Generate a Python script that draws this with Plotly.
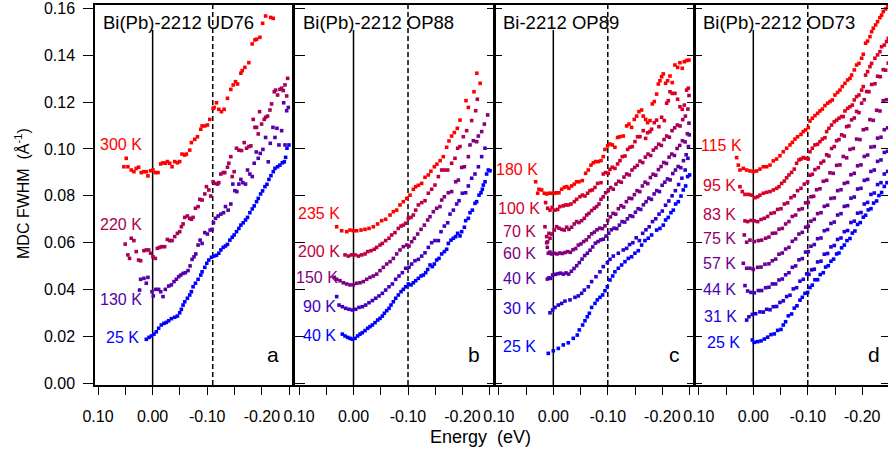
import plotly.graph_objects as go

# ---------------- Panel a : Bi(Pb)-2212 UD76 ----------------
a25_e = [0.0116,0.0067,0.0024,-0.0024,-0.0067,-0.0110,-0.0159,-0.0208,-0.0251,-0.0294,-0.0343,-0.0404,-0.0453,-0.0495,-0.0526,-0.0557,-0.0587,-0.0636,-0.0679,-0.0709,-0.0740,-0.0783,-0.0832,-0.0881,-0.0905,-0.0954,-0.0991,-0.1028,-0.1076,-0.1119,-0.1168,-0.1211,-0.1248,-0.1291,-0.1333,-0.1370,-0.1413,-0.1456,-0.1492,-0.1535,-0.1578,-0.1615,-0.1657,-0.1700,-0.1737,-0.1780,-0.1823,-0.1859,-0.1902,-0.1933,-0.1976,-0.2012,-0.2055,-0.2092,-0.2128,-0.2165,-0.2208,-0.2239,-0.2287,-0.2330,-0.2373,-0.2410,-0.2434,-0.2459,-0.2495]
a25_w = [0.0188,0.0196,0.0202,0.0210,0.0220,0.0235,0.0249,0.0256,0.0260,0.0267,0.0276,0.0282,0.0287,0.0301,0.0316,0.0334,0.0348,0.0363,0.0377,0.0391,0.0412,0.0427,0.0444,0.0462,0.0476,0.0495,0.0512,0.0526,0.0538,0.0543,0.0546,0.0555,0.0569,0.0580,0.0586,0.0593,0.0611,0.0623,0.0633,0.0647,0.0661,0.0675,0.0685,0.0697,0.0708,0.0728,0.0744,0.0757,0.0775,0.0789,0.0808,0.0821,0.0839,0.0849,0.0870,0.0886,0.0903,0.0917,0.0924,0.0931,0.0941,0.0945,0.0964,0.1003,0.1017]

a130_e = [0.0239,0.0220,0.0159,0.0116,0.0086,0.0012,-0.0012,-0.0055,-0.0110,-0.0147,-0.0190,-0.0232,-0.0294,-0.0343,-0.0391,-0.0434,-0.0477,-0.0514,-0.0557,-0.0599,-0.0648,-0.0685,-0.0722,-0.0758,-0.0789,-0.0832,-0.0869,-0.0905,-0.0954,-0.1003,-0.1052,-0.1089,-0.1113,-0.1150,-0.1199,-0.1248,-0.1297,-0.1333,-0.1382,-0.1431,-0.1468,-0.1505,-0.1541,-0.1578,-0.1615,-0.1651,-0.1700,-0.1737,-0.1780,-0.1823,-0.1859,-0.1896,-0.1933,-0.1969,-0.2018,-0.2067,-0.2116,-0.2153,-0.2202,-0.2239,-0.2275,-0.2312,-0.2361,-0.2398,-0.2422,-0.2453,-0.2483]
a130_w = [0.0398,0.0444,0.0448,0.0427,0.0452,0.0391,0.0373,0.0401,0.0401,0.0391,0.0370,0.0401,0.0415,0.0420,0.0434,0.0444,0.0455,0.0462,0.0469,0.0472,0.0481,0.0501,0.0529,0.0540,0.0552,0.0590,0.0611,0.0597,0.0643,0.0637,0.0654,0.0657,0.0685,0.0704,0.0714,0.0722,0.0728,0.0754,0.0739,0.0765,0.0850,0.0822,0.0818,0.0850,0.0870,0.0856,0.0850,0.0910,0.0893,0.0882,0.0939,0.0987,0.0960,0.0981,0.0998,0.1049,0.0945,0.1024,0.1092,0.1049,0.1088,0.1017,0.1078,0.1197,0.1017,0.1163,0.1177]

a220_e = [0.0502,0.0453,0.0422,0.0391,0.0343,0.0300,0.0257,0.0220,0.0159,0.0116,0.0073,0.0037,-0.0006,-0.0049,-0.0086,-0.0128,-0.0171,-0.0220,-0.0269,-0.0312,-0.0355,-0.0404,-0.0453,-0.0495,-0.0526,-0.0557,-0.0587,-0.0636,-0.0679,-0.0709,-0.0740,-0.0783,-0.0832,-0.0862,-0.0905,-0.0954,-0.0985,-0.1028,-0.1064,-0.1107,-0.1138,-0.1187,-0.1211,-0.1248,-0.1291,-0.1321,-0.1370,-0.1394,-0.1431,-0.1456,-0.1492,-0.1535,-0.1578,-0.1627,-0.1676,-0.1719,-0.1761,-0.1798,-0.1841,-0.1872,-0.1902,-0.1933,-0.1957,-0.1994,-0.2043,-0.2067,-0.2104,-0.2147,-0.2177,-0.2226,-0.2251,-0.2287,-0.2330,-0.2361,-0.2391,-0.2422,-0.2453,-0.2471]
a220_w = [0.0594,0.0548,0.0533,0.0619,0.0609,0.0562,0.0526,0.0523,0.0566,0.0569,0.0569,0.0555,0.0540,0.0533,0.0576,0.0580,0.0583,0.0583,0.0614,0.0609,0.0609,0.0626,0.0640,0.0647,0.0668,0.0680,0.0708,0.0714,0.0704,0.0700,0.0708,0.0747,0.0754,0.0785,0.0782,0.0808,0.0839,0.0825,0.0799,0.0860,0.0853,0.0850,0.0856,0.0893,0.0899,0.0899,0.0922,0.0939,0.0967,0.0882,0.0903,0.1003,0.0995,0.0993,0.1027,0.1003,0.1010,0.1013,0.1126,0.1092,0.1092,0.1064,0.1159,0.1106,0.1126,0.1135,0.1140,0.1166,0.1192,0.1244,0.1251,0.1230,0.1254,0.1259,0.1249,0.1273,0.1226,0.1301]

a300_e = [0.0526,0.0483,0.0453,0.0391,0.0343,0.0300,0.0257,0.0208,0.0159,0.0116,0.0086,0.0037,-0.0006,-0.0049,-0.0098,-0.0147,-0.0190,-0.0232,-0.0269,-0.0312,-0.0355,-0.0404,-0.0453,-0.0495,-0.0538,-0.0587,-0.0618,-0.0679,-0.0709,-0.0771,-0.0820,-0.0881,-0.0905,-0.0954,-0.1003,-0.1046,-0.1107,-0.1125,-0.1168,-0.1211,-0.1260,-0.1309,-0.1370,-0.1431,-0.1474,-0.1517,-0.1554,-0.1615,-0.1639,-0.1688,-0.1761,-0.1822,-0.1872,-0.1903,-0.1963,-0.2013,-0.2068,-0.2160,-0.2207]
a300_w = [0.0924,0.0960,0.0924,0.0910,0.0903,0.0917,0.0922,0.0899,0.0903,0.0903,0.0885,0.0907,0.0910,0.0899,0.0899,0.0936,0.0941,0.0939,0.0946,0.0939,0.0924,0.0946,0.0941,0.0946,0.0978,0.0974,0.0978,0.0995,0.1027,0.1041,0.1052,0.1084,0.1098,0.1098,0.1102,0.1126,0.1173,0.1177,0.1197,0.1169,0.1159,0.1169,0.1216,0.1254,0.1273,0.1287,0.1277,0.1323,0.1334,0.1348,0.1368,0.1448,0.1465,0.1468,0.1476,0.1536,0.1567,0.1561,0.1557]

# ---------------- Panel b : Bi(Pb)-2212 OP88 ----------------
b40_e = [0.0205,0.0156,0.0107,0.0064,0.0021,-0.0028,-0.0076,-0.0119,-0.0162,-0.0211,-0.0260,-0.0303,-0.0346,-0.0395,-0.0443,-0.0486,-0.0529,-0.0566,-0.0609,-0.0651,-0.0688,-0.0731,-0.0774,-0.0823,-0.0872,-0.0914,-0.0957,-0.1006,-0.1055,-0.1098,-0.1141,-0.1190,-0.1239,-0.1281,-0.1324,-0.1361,-0.1404,-0.1446,-0.1483,-0.1526,-0.1569,-0.1618,-0.1667,-0.1709,-0.1740,-0.1789,-0.1832,-0.1875,-0.1911,-0.1954,-0.1985,-0.2034,-0.2058,-0.2107,-0.2138,-0.2181,-0.2229,-0.2260,-0.2303,-0.2339,-0.2364,-0.2382,-0.2413,-0.2443,-0.2474,-0.2505]
b40_w = [0.0210,0.0202,0.0196,0.0192,0.0188,0.0192,0.0202,0.0210,0.0216,0.0225,0.0235,0.0242,0.0249,0.0259,0.0270,0.0277,0.0287,0.0299,0.0310,0.0320,0.0334,0.0348,0.0363,0.0377,0.0391,0.0401,0.0412,0.0424,0.0420,0.0429,0.0438,0.0448,0.0458,0.0462,0.0472,0.0486,0.0505,0.0498,0.0509,0.0526,0.0533,0.0552,0.0562,0.0572,0.0597,0.0611,0.0619,0.0626,0.0640,0.0629,0.0647,0.0666,0.0694,0.0704,0.0728,0.0739,0.0768,0.0775,0.0803,0.0813,0.0828,0.0846,0.0860,0.0893,0.0910,0.0907]

b90_e = [0.0309,0.0266,0.0205,0.0144,0.0083,0.0021,-0.0040,-0.0101,-0.0162,-0.0223,-0.0284,-0.0346,-0.0407,-0.0468,-0.0529,-0.0590,-0.0651,-0.0713,-0.0774,-0.0835,-0.0896,-0.0957,-0.1018,-0.1067,-0.1128,-0.1190,-0.1251,-0.1312,-0.1373,-0.1434,-0.1495,-0.1557,-0.1606,-0.1667,-0.1728,-0.1771,-0.1832,-0.1893,-0.1936,-0.1997,-0.2058,-0.2107,-0.2168,-0.2229,-0.2291,-0.2352,-0.2413]
b90_w = [0.0370,0.0334,0.0327,0.0320,0.0316,0.0313,0.0316,0.0324,0.0327,0.0334,0.0344,0.0353,0.0363,0.0373,0.0384,0.0398,0.0412,0.0424,0.0444,0.0458,0.0472,0.0491,0.0495,0.0509,0.0523,0.0529,0.0543,0.0557,0.0580,0.0600,0.0609,0.0609,0.0647,0.0671,0.0685,0.0722,0.0739,0.0765,0.0779,0.0811,0.0813,0.0842,0.0875,0.0893,0.0924,0.0967,0.1003]

b150_e = [0.0352,0.0309,0.0248,0.0187,0.0125,0.0064,0.0003,-0.0058,-0.0119,-0.0180,-0.0242,-0.0303,-0.0364,-0.0425,-0.0486,-0.0547,-0.0609,-0.0670,-0.0731,-0.0792,-0.0853,-0.0914,-0.0976,-0.1018,-0.1067,-0.1116,-0.1177,-0.1239,-0.1300,-0.1361,-0.1404,-0.1465,-0.1526,-0.1587,-0.1618,-0.1667,-0.1740,-0.1801,-0.1875,-0.1924,-0.1985,-0.2034,-0.2107,-0.2138,-0.2199,-0.2260,-0.2291,-0.2352,-0.2401,-0.2462]
b150_w = [0.0452,0.0444,0.0438,0.0429,0.0424,0.0420,0.0420,0.0427,0.0429,0.0434,0.0444,0.0452,0.0458,0.0466,0.0481,0.0495,0.0509,0.0519,0.0533,0.0552,0.0569,0.0583,0.0590,0.0586,0.0604,0.0619,0.0637,0.0657,0.0675,0.0697,0.0711,0.0732,0.0747,0.0754,0.0782,0.0796,0.0813,0.0818,0.0860,0.0867,0.0921,0.0924,0.0967,0.1017,0.1035,0.1031,0.1055,0.1074,0.1106,0.1145]

b200_e = [0.0156,0.0095,0.0034,-0.0028,-0.0089,-0.0150,-0.0211,-0.0260,-0.0321,-0.0382,-0.0425,-0.0486,-0.0529,-0.0590,-0.0651,-0.0700,-0.0761,-0.0823,-0.0872,-0.0914,-0.0957,-0.1006,-0.1055,-0.1098,-0.1141,-0.1190,-0.1251,-0.1312,-0.1373,-0.1434,-0.1495,-0.1557,-0.1618,-0.1667,-0.1728,-0.1801,-0.1862,-0.1911,-0.1954,-0.2015,-0.2076,-0.2168,-0.2242,-0.2272]
b200_w = [0.0548,0.0543,0.0548,0.0548,0.0543,0.0548,0.0552,0.0562,0.0566,0.0572,0.0580,0.0590,0.0597,0.0609,0.0619,0.0633,0.0643,0.0661,0.0671,0.0675,0.0683,0.0704,0.0708,0.0718,0.0739,0.0761,0.0771,0.0779,0.0811,0.0828,0.0846,0.0882,0.0910,0.0910,0.0910,0.0939,0.0960,0.1003,0.1010,0.1052,0.1078,0.1121,0.1163,0.1212]

b235_e = [0.0309,0.0217,0.0125,0.0064,0.0003,-0.0058,-0.0138,-0.0211,-0.0284,-0.0364,-0.0443,-0.0517,-0.0590,-0.0670,-0.0731,-0.0792,-0.0853,-0.0914,-0.0976,-0.1037,-0.1098,-0.1141,-0.1190,-0.1251,-0.1312,-0.1373,-0.1420,-0.1483,-0.1530,-0.1590,-0.1648,-0.1709,-0.1752,-0.1801,-0.1850,-0.1905,-0.1954,-0.2064,-0.2107,-0.2211,-0.2263,-0.2324]
b235_w = [0.0668,0.0651,0.0647,0.0654,0.0651,0.0651,0.0654,0.0657,0.0661,0.0668,0.0680,0.0694,0.0700,0.0718,0.0732,0.0739,0.0761,0.0775,0.0789,0.0803,0.0828,0.0839,0.0845,0.0853,0.0879,0.0889,0.0905,0.0924,0.0935,0.0950,0.0967,0.1007,0.1034,0.1055,0.1070,0.1088,0.1123,0.1206,0.1177,0.1244,0.1323,0.1280]

# ---------------- Panel c : Bi-2212 OP89 ----------------
c25_e = [0.0092,0.0,-0.0092,-0.0183,-0.0275,-0.0367,-0.0440,-0.0477,-0.0538,-0.0581,-0.0624,-0.0661,-0.0703,-0.0765,-0.0807,-0.0856,-0.0905,-0.0948,-0.0991,-0.1040,-0.1089,-0.1131,-0.1193,-0.1254,-0.1315,-0.1376,-0.1437,-0.1498,-0.1560,-0.1621,-0.1682,-0.1743,-0.1804,-0.1896,-0.1957,-0.2018,-0.2061,-0.2110,-0.2159,-0.2202,-0.2245,-0.2294,-0.2343,-0.2385,-0.2428,-0.2465,-0.2502]
c25_w = [0.0128,0.0139,0.0149,0.0164,0.0173,0.0192,0.0206,0.0228,0.0249,0.0267,0.0284,0.0299,0.0324,0.0341,0.0356,0.0367,0.0377,0.0395,0.0412,0.0441,0.0458,0.0476,0.0491,0.0505,0.0519,0.0533,0.0540,0.0555,0.0566,0.0590,0.0609,0.0619,0.0633,0.0654,0.0661,0.0675,0.0697,0.0708,0.0728,0.0739,0.0765,0.0775,0.0799,0.0825,0.0842,0.0882,0.0889]

c30_e = [0.0061,0.0012,-0.0031,-0.0092,-0.0153,-0.0214,-0.0306,-0.0398,-0.0459,-0.0520,-0.0569,-0.0642,-0.0703,-0.0783,-0.0856,-0.0917,-0.0991,-0.1040,-0.1101,-0.1193,-0.1284,-0.1346,-0.1400,-0.1460,-0.1521,-0.1580,-0.1640,-0.1700,-0.1760,-0.1820,-0.1880,-0.1940,-0.2000,-0.2060,-0.2120,-0.2180,-0.2240,-0.2300,-0.2360,-0.2420,-0.2470]
c30_w = [0.0301,0.0313,0.0324,0.0334,0.0341,0.0351,0.0356,0.0367,0.0373,0.0384,0.0398,0.0412,0.0434,0.0455,0.0476,0.0498,0.0515,0.0529,0.0543,0.0555,0.0569,0.0576,0.0592,0.0600,0.0621,0.0609,0.0640,0.0655,0.0668,0.0690,0.0702,0.0722,0.0735,0.0760,0.0778,0.0800,0.0822,0.0848,0.0875,0.0910,0.0960]

c40_e = [0.0110,0.0080,0.0050,0.0012,-0.0037,-0.0086,-0.0135,-0.0184,-0.0233,-0.0282,-0.0331,-0.0380,-0.0429,-0.0478,-0.0527,-0.0576,-0.0625,-0.0674,-0.0723,-0.0772,-0.0821,-0.0870,-0.0919,-0.0968,-0.1017,-0.1066,-0.1115,-0.1164,-0.1213,-0.1262,-0.1311,-0.1360,-0.1409,-0.1458,-0.1507,-0.1556,-0.1605,-0.1654,-0.1703,-0.1752,-0.1801,-0.1850,-0.1899,-0.1948,-0.1997,-0.2046,-0.2095,-0.2144,-0.2193,-0.2242,-0.2291,-0.2340,-0.2389,-0.2438,-0.2480,-0.2495]
c40_w = [0.0445,0.0450,0.0448,0.0462,0.0465,0.0468,0.0470,0.0466,0.0471,0.0466,0.0478,0.0490,0.0502,0.0515,0.0530,0.0545,0.0555,0.0568,0.0582,0.0598,0.0605,0.0612,0.0615,0.0628,0.0640,0.0655,0.0662,0.0660,0.0675,0.0690,0.0688,0.0702,0.0715,0.0712,0.0730,0.0745,0.0742,0.0762,0.0775,0.0790,0.0785,0.0808,0.0822,0.0818,0.0845,0.0858,0.0872,0.0868,0.0895,0.0910,0.0925,0.0920,0.0950,0.0975,0.1010,0.1060]

c60_e = [0.0122,0.0110,0.0092,0.0061,0.0031,-0.0018,-0.0067,-0.0116,-0.0165,-0.0214,-0.0263,-0.0312,-0.0361,-0.0410,-0.0459,-0.0508,-0.0557,-0.0606,-0.0655,-0.0704,-0.0753,-0.0802,-0.0851,-0.0900,-0.0949,-0.0998,-0.1047,-0.1096,-0.1145,-0.1194,-0.1243,-0.1292,-0.1341,-0.1390,-0.1439,-0.1488,-0.1537,-0.1586,-0.1635,-0.1684,-0.1733,-0.1782,-0.1831,-0.1880,-0.1929,-0.1978,-0.2027,-0.2076,-0.2125,-0.2174,-0.2223,-0.2272,-0.2321,-0.2370,-0.2419,-0.2460,-0.2490]
c60_w = [0.0600,0.0580,0.0555,0.0560,0.0552,0.0555,0.0552,0.0556,0.0554,0.0558,0.0562,0.0559,0.0570,0.0575,0.0590,0.0595,0.0605,0.0612,0.0625,0.0638,0.0645,0.0655,0.0662,0.0660,0.0672,0.0695,0.0710,0.0725,0.0722,0.0745,0.0758,0.0752,0.0775,0.0790,0.0788,0.0805,0.0822,0.0818,0.0842,0.0858,0.0852,0.0878,0.0892,0.0888,0.0912,0.0925,0.0942,0.0938,0.0965,0.0978,0.0972,0.1002,0.1015,0.1035,0.1030,0.1065,0.1110]

c70_e = [0.0153,0.0122,0.0104,0.0080,0.0061,0.0031,-0.0018,-0.0061,-0.0104,-0.0153,-0.0202,-0.0245,-0.0287,-0.0336,-0.0385,-0.0428,-0.0471,-0.0520,-0.0569,-0.0612,-0.0654,-0.0703,-0.0752,-0.0795,-0.0838,-0.0875,-0.0917,-0.0960,-0.1009,-0.1052,-0.1101,-0.1150,-0.1199,-0.1248,-0.1297,-0.1346,-0.1395,-0.1444,-0.1493,-0.1542,-0.1591,-0.1640,-0.1689,-0.1738,-0.1787,-0.1836,-0.1885,-0.1934,-0.1983,-0.2032,-0.2081,-0.2130,-0.2179,-0.2228,-0.2277,-0.2326,-0.2375,-0.2424,-0.2470,-0.2490]
c70_w = [0.0668,0.0626,0.0604,0.0640,0.0619,0.0637,0.0654,0.0668,0.0662,0.0657,0.0654,0.0666,0.0657,0.0666,0.0680,0.0690,0.0686,0.0694,0.0704,0.0718,0.0725,0.0737,0.0747,0.0754,0.0765,0.0785,0.0796,0.0813,0.0822,0.0835,0.0828,0.0850,0.0862,0.0858,0.0880,0.0893,0.0889,0.0910,0.0921,0.0930,0.0948,0.0942,0.0965,0.0978,0.0972,0.0995,0.1005,0.1020,0.1015,0.1040,0.1055,0.1050,0.1078,0.1090,0.1102,0.1098,0.1125,0.1140,0.1170,0.1228]

c100_e = [0.0141,0.0104,0.0061,0.0018,-0.0031,-0.0080,-0.0122,-0.0183,-0.0226,-0.0275,-0.0324,-0.0385,-0.0428,-0.0489,-0.0532,-0.0581,-0.0630,-0.0673,-0.0716,-0.0765,-0.0813,-0.0875,-0.0917,-0.0960,-0.1009,-0.1040,-0.1083,-0.1131,-0.1180,-0.1223,-0.1266,-0.1315,-0.1364,-0.1407,-0.1450,-0.1498,-0.1547,-0.1590,-0.1651,-0.1694,-0.1731,-0.1774,-0.1804,-0.1853,-0.1896,-0.1939,-0.1988,-0.2037,-0.2080,-0.2110,-0.2141,-0.2183,-0.2232,-0.2281,-0.2324,-0.2367,-0.2404,-0.2446,-0.2477]
c100_w = [0.0771,0.0747,0.0739,0.0751,0.0739,0.0742,0.0754,0.0757,0.0761,0.0761,0.0765,0.0775,0.0785,0.0796,0.0803,0.0799,0.0811,0.0822,0.0825,0.0836,0.0853,0.0856,0.0893,0.0899,0.0896,0.0913,0.0922,0.0917,0.0936,0.0950,0.0967,0.0970,0.0998,0.1007,0.1010,0.1031,0.1052,0.1052,0.1078,0.1045,0.1069,0.1074,0.1084,0.1112,0.1123,0.1095,0.1135,0.1121,0.1195,0.1206,0.1244,0.1237,0.1237,0.1212,0.1180,0.1169,0.1187,0.1251,0.1259]

c180_e = [0.0324,0.0287,0.0263,0.0214,0.0165,0.0122,0.0080,0.0031,-0.0018,-0.0061,-0.0104,-0.0153,-0.0202,-0.0245,-0.0287,-0.0336,-0.0385,-0.0428,-0.0471,-0.0532,-0.0593,-0.0642,-0.0691,-0.0734,-0.0777,-0.0826,-0.0875,-0.0917,-0.0948,-0.0997,-0.1040,-0.1083,-0.1131,-0.1180,-0.1223,-0.1284,-0.1346,-0.1388,-0.1437,-0.1486,-0.1529,-0.1572,-0.1621,-0.1651,-0.1694,-0.1731,-0.1774,-0.1817,-0.1853,-0.1896,-0.1927,-0.1957,-0.1988,-0.2018,-0.2061,-0.2098,-0.2141,-0.2183,-0.2232,-0.2281,-0.2324,-0.2367,-0.2404,-0.2446,-0.2489]
c180_w = [0.0860,0.0811,0.0828,0.0825,0.0811,0.0808,0.0811,0.0811,0.0811,0.0813,0.0813,0.0828,0.0836,0.0839,0.0832,0.0842,0.0850,0.0860,0.0860,0.0865,0.0896,0.0910,0.0931,0.0941,0.0946,0.0946,0.0950,0.0967,0.0998,0.1013,0.1021,0.1017,0.1007,0.1049,0.1052,0.1055,0.1098,0.1106,0.1092,0.1126,0.1140,0.1159,0.1166,0.1140,0.1126,0.1112,0.1121,0.1192,0.1202,0.1234,0.1277,0.1291,0.1308,0.1320,0.1280,0.1291,0.1311,0.1283,0.1358,0.1348,0.1368,0.1344,0.1372,0.1377,0.1379]

# ---------------- Panel d : Bi(Pb)-2212 OD73 ----------------
d25_e = [0.0018,-0.0018,-0.0080,-0.0141,-0.0202,-0.0263,-0.0324,-0.0385,-0.0447,-0.0508,-0.0550,-0.0593,-0.0642,-0.0703,-0.0752,-0.0801,-0.0856,-0.0899,-0.0948,-0.0997,-0.1040,-0.1083,-0.1131,-0.1180,-0.1229,-0.1284,-0.1327,-0.1376,-0.1425,-0.1474,-0.1529,-0.1572,-0.1621,-0.1670,-0.1719,-0.1774,-0.1817,-0.1865,-0.1914,-0.1963,-0.2018,-0.2061,-0.2110,-0.2159,-0.2208,-0.2263,-0.2306,-0.2355,-0.2404,-0.2453]
d25_w = [0.0185,0.0175,0.0178,0.0181,0.0189,0.0197,0.0208,0.0211,0.0226,0.0230,0.0249,0.0263,0.0288,0.0296,0.0321,0.0331,0.0355,0.0367,0.0384,0.0388,0.0409,0.0419,0.0442,0.0442,0.0464,0.0472,0.0496,0.0502,0.0521,0.0530,0.0552,0.0556,0.0578,0.0590,0.0609,0.0618,0.0641,0.0650,0.0678,0.0686,0.0709,0.0717,0.0740,0.0745,0.0769,0.0778,0.0801,0.0814,0.0840,0.0856]

d31_e = [0.0122,0.0080,0.0018,-0.0043,-0.0122,-0.0183,-0.0245,-0.0306,-0.0367,-0.0428,-0.0489,-0.0550,-0.0612,-0.0673,-0.0734,-0.0795,-0.0856,-0.0917,-0.0979,-0.1021,-0.1070,-0.1119,-0.1180,-0.1242,-0.1303,-0.1364,-0.1425,-0.1486,-0.1547,-0.1609,-0.1670,-0.1731,-0.1792,-0.1853,-0.1914,-0.1976,-0.2037,-0.2098,-0.2159,-0.2220,-0.2281,-0.2343,-0.2404,-0.2465]
d31_w = [0.0270,0.0284,0.0294,0.0297,0.0305,0.0304,0.0316,0.0314,0.0327,0.0328,0.0345,0.0352,0.0370,0.0376,0.0403,0.0408,0.0436,0.0444,0.0467,0.0465,0.0484,0.0487,0.0518,0.0521,0.0551,0.0554,0.0582,0.0588,0.0614,0.0620,0.0647,0.0652,0.0686,0.0692,0.0726,0.0729,0.0765,0.0772,0.0806,0.0812,0.0848,0.0856,0.0893,0.0904]

d44_e = [0.0153,0.0104,0.0043,-0.0018,-0.0092,-0.0153,-0.0226,-0.0287,-0.0349,-0.0410,-0.0471,-0.0532,-0.0593,-0.0654,-0.0716,-0.0777,-0.0838,-0.0899,-0.0960,-0.1009,-0.1058,-0.1119,-0.1180,-0.1242,-0.1303,-0.1364,-0.1425,-0.1486,-0.1547,-0.1609,-0.1670,-0.1731,-0.1792,-0.1853,-0.1914,-0.1976,-0.2037,-0.2098,-0.2159,-0.2220,-0.2281,-0.2343,-0.2404,-0.2465]
d44_w = [0.0417,0.0394,0.0388,0.0386,0.0396,0.0396,0.0408,0.0410,0.0424,0.0424,0.0441,0.0445,0.0463,0.0472,0.0495,0.0501,0.0527,0.0532,0.0560,0.0562,0.0585,0.0592,0.0617,0.0620,0.0651,0.0656,0.0682,0.0688,0.0718,0.0724,0.0755,0.0758,0.0790,0.0795,0.0829,0.0832,0.0866,0.0870,0.0904,0.0910,0.0947,0.0953,0.0985,0.0990]

d57_e = [0.0183,0.0122,0.0061,0.0,-0.0080,-0.0141,-0.0214,-0.0287,-0.0349,-0.0410,-0.0471,-0.0532,-0.0593,-0.0654,-0.0716,-0.0777,-0.0838,-0.0899,-0.0960,-0.1009,-0.1058,-0.1119,-0.1180,-0.1242,-0.1303,-0.1364,-0.1425,-0.1486,-0.1547,-0.1609,-0.1670,-0.1731,-0.1792,-0.1853,-0.1914,-0.1976,-0.2037,-0.2098,-0.2159,-0.2220,-0.2281,-0.2343,-0.2404,-0.2465]
d57_w = [0.0512,0.0491,0.0491,0.0486,0.0495,0.0496,0.0508,0.0510,0.0523,0.0530,0.0551,0.0556,0.0573,0.0580,0.0606,0.0616,0.0637,0.0644,0.0666,0.0670,0.0692,0.0700,0.0724,0.0728,0.0755,0.0760,0.0789,0.0791,0.0822,0.0826,0.0853,0.0857,0.0890,0.0896,0.0928,0.0932,0.0968,0.0974,0.1008,0.1010,0.1046,0.1050,0.1082,0.1090]

d75_e = [0.0165,0.0122,0.0061,-0.0018,-0.0092,-0.0153,-0.0226,-0.0287,-0.0349,-0.0410,-0.0471,-0.0532,-0.0593,-0.0654,-0.0716,-0.0777,-0.0838,-0.0899,-0.0960,-0.1009,-0.1058,-0.1107,-0.1162,-0.1223,-0.1284,-0.1346,-0.1407,-0.1468,-0.1529,-0.1590,-0.1651,-0.1713,-0.1774,-0.1835,-0.1896,-0.1957,-0.2018,-0.2080,-0.2141,-0.2202,-0.2263,-0.2324,-0.2385,-0.2446]
d75_w = [0.0633,0.0602,0.0611,0.0605,0.0609,0.0611,0.0619,0.0624,0.0640,0.0641,0.0658,0.0661,0.0680,0.0690,0.0712,0.0718,0.0741,0.0745,0.0770,0.0772,0.0796,0.0798,0.0826,0.0830,0.0862,0.0866,0.0898,0.0896,0.0930,0.0932,0.0968,0.0962,0.0998,0.1002,0.1042,0.1040,0.1082,0.1086,0.1125,0.1122,0.1165,0.1162,0.1206,0.1210]

d83_e = [0.0153,0.0104,0.0043,-0.0018,-0.0080,-0.0141,-0.0202,-0.0263,-0.0324,-0.0385,-0.0447,-0.0508,-0.0569,-0.0630,-0.0691,-0.0752,-0.0813,-0.0875,-0.0936,-0.0997,-0.1040,-0.1083,-0.1131,-0.1193,-0.1242,-0.1291,-0.1346,-0.1388,-0.1437,-0.1486,-0.1529,-0.1572,-0.1621,-0.1670,-0.1713,-0.1755,-0.1804,-0.1853,-0.1896,-0.1939,-0.1988,-0.2037,-0.2080,-0.2122,-0.2171,-0.2232,-0.2281,-0.2330,-0.2385,-0.2428,-0.2477]
d83_w = [0.0693,0.0690,0.0695,0.0693,0.0690,0.0699,0.0704,0.0712,0.0725,0.0728,0.0742,0.0745,0.0765,0.0770,0.0792,0.0800,0.0822,0.0832,0.0850,0.0860,0.0888,0.0892,0.0912,0.0920,0.0940,0.0948,0.0975,0.0970,0.1002,0.1010,0.1035,0.1040,0.1060,0.1055,0.1095,0.1098,0.1124,0.1132,0.1160,0.1155,0.1195,0.1210,0.1245,0.1244,0.1275,0.1278,0.1310,0.1308,0.1338,0.1336,0.1366]

d95_e = [0.0245,0.0202,0.0153,0.0092,0.0031,-0.0031,-0.0080,-0.0122,-0.0183,-0.0245,-0.0306,-0.0367,-0.0428,-0.0471,-0.0520,-0.0569,-0.0612,-0.0654,-0.0703,-0.0752,-0.0795,-0.0838,-0.0875,-0.0917,-0.0960,-0.1009,-0.1040,-0.1083,-0.1131,-0.1180,-0.1223,-0.1266,-0.1315,-0.1346,-0.1388,-0.1437,-0.1486,-0.1529,-0.1572,-0.1621,-0.1651,-0.1682,-0.1731,-0.1774,-0.1817,-0.1853,-0.1896,-0.1939,-0.1988,-0.2018,-0.2061,-0.2098,-0.2141,-0.2171,-0.2232,-0.2281,-0.2324,-0.2355,-0.2404,-0.2446,-0.2477]
d95_w = [0.0839,0.0818,0.0806,0.0806,0.0803,0.0792,0.0796,0.0803,0.0811,0.0815,0.0818,0.0825,0.0832,0.0839,0.0853,0.0863,0.0877,0.0889,0.0900,0.0914,0.0939,0.0953,0.0957,0.0963,0.0960,0.0957,0.0988,0.1003,0.1017,0.1020,0.1031,0.1042,0.1048,0.1074,0.1088,0.1102,0.1116,0.1123,0.1131,0.1138,0.1138,0.1162,0.1173,0.1180,0.1187,0.1209,0.1223,0.1230,0.1251,0.1266,0.1315,0.1330,0.1351,0.1365,0.1387,0.1401,0.1415,0.1436,0.1443,0.1458,0.1472]

d115_e = [0.0306,0.0275,0.0245,0.0183,0.0122,0.0061,0.0,-0.0061,-0.0122,-0.0183,-0.0245,-0.0306,-0.0367,-0.0428,-0.0489,-0.0550,-0.0612,-0.0673,-0.0716,-0.0765,-0.0813,-0.0875,-0.0917,-0.0960,-0.1009,-0.1040,-0.1083,-0.1131,-0.1180,-0.1223,-0.1266,-0.1315,-0.1364,-0.1407,-0.1450,-0.1498,-0.1547,-0.1590,-0.1633,-0.1682,-0.1731,-0.1774,-0.1804,-0.1853,-0.1896,-0.1939,-0.1988,-0.2018,-0.2061,-0.2098,-0.2141,-0.2171,-0.2202,-0.2245,-0.2281,-0.2324,-0.2355,-0.2385,-0.2428,-0.2465]
d115_w = [0.0963,0.0931,0.0910,0.0917,0.0910,0.0906,0.0903,0.0906,0.0914,0.0924,0.0924,0.0931,0.0949,0.0957,0.0971,0.0988,0.1003,0.1017,0.1028,0.1042,0.1052,0.1062,0.1074,0.1081,0.1091,0.1119,0.1131,0.1142,0.1152,0.1162,0.1170,0.1185,0.1195,0.1202,0.1209,0.1230,0.1241,0.1251,0.1266,0.1280,0.1294,0.1301,0.1315,0.1337,0.1358,0.1365,0.1387,0.1404,0.1451,0.1460,0.1479,0.1500,0.1515,0.1529,0.1543,0.1560,0.1571,0.1586,0.1597,0.1607]

# ---------------- labels ----------------
panel_titles = ["Bi(Pb)-2212 UD76", "Bi(Pb)-2212 OP88", "Bi-2212 OP89", "Bi(Pb)-2212 OD73"]
panel_letters = ["a", "b", "c", "d"]
x_tick_vals = [0.1, 0.0, -0.1, -0.2]
x_tick_text = ["0.10", "0.00", "-0.10", "-0.20"]
gap_energy = [-0.11, -0.10, -0.10, -0.10]   # dashed reference line per panel

panels = [
    [("25 K", a25_e, a25_w), ("130 K", a130_e, a130_w), ("220 K", a220_e, a220_w), ("300 K", a300_e, a300_w)],
    [("40 K", b40_e, b40_w), ("90 K", b90_e, b90_w), ("150 K", b150_e, b150_w), ("200 K", b200_e, b200_w), ("235 K", b235_e, b235_w)],
    [("25 K", c25_e, c25_w), ("30 K", c30_e, c30_w), ("40 K", c40_e, c40_w), ("60 K", c60_e, c60_w), ("70 K", c70_e, c70_w), ("100 K", c100_e, c100_w), ("180 K", c180_e, c180_w)],
    [("25 K", d25_e, d25_w), ("31 K", d31_e, d31_w), ("44 K", d44_e, d44_w), ("57 K", d57_e, d57_w), ("75 K", d75_e, d75_w), ("83 K", d83_e, d83_w), ("95 K", d95_e, d95_w), ("115 K", d115_e, d115_w)],
]

# label anchor (right edge, centre) in data units, per panel, same order as series
label_pos = [
    [(0.022, 0.0196), (0.016, 0.0356), (0.016, 0.0678), (0.016, 0.1020)],
    [(0.028, 0.0206), (0.028, 0.0330), (0.025, 0.0452), (0.022, 0.0562), (0.021, 0.0725)],
    [(0.0275, 0.0156), (0.0275, 0.0320), (0.0275, 0.0448), (0.0275, 0.0552), (0.0275, 0.0647), (0.0214, 0.0747), (0.0245, 0.0913)],
    [(0.0214, 0.0175), (0.0257, 0.0284), (0.0287, 0.0402), (0.0287, 0.0512), (0.0287, 0.0619), (0.0287, 0.0721), (0.0275, 0.0846), (0.0165, 0.1014)],
]

W, H = 888, 453
FONT = "Liberation Sans, Arial, sans-serif"

def px_x(p):
    return p / W

def px_y(p):
    return 1 - p / H

def col(i, n):
    t = i / (n - 1)
    return "rgb(%d,0,%d)" % (round(255 * t), round(255 * (1 - t)))

dom_x = [(95, 293), (294, 494), (495, 694), (695, 888)]
x_ranges = [(0.1055, -0.2569), (0.1092, -0.2578), (0.107, -0.2582), (0.107, -0.2472)]
y_range = (-0.0007, 0.1614)
y_dom = (px_y(385), px_y(5))

fig = go.Figure()
annotations = []
shapes = []
layout = {}

for k, series in enumerate(panels):
    sfx = "" if k == 0 else str(k + 1)
    xa, ya = "x" + sfx, "y" + sfx
    n = len(series)
    for i, (name, xe, yw) in enumerate(series):
        m = min(len(xe), len(yw))
        c = col(i, n)
        fig.add_trace(go.Scatter(
            x=xe[:m], y=yw[:m], mode="markers", name=name,
            xaxis=xa, yaxis=ya, showlegend=False,
            marker=dict(symbol="square", size=3.6, color=c, line=dict(width=0)),
            hoverinfo="skip"))
        lx, ly = label_pos[k][i]
        annotations.append(dict(x=lx, y=ly, xref=xa, yref=ya, text=name,
                                showarrow=False, xanchor="right", yanchor="middle",
                                font=dict(size=16, color=c, family=FONT)))
    layout["xaxis" + sfx] = dict(
        domain=[px_x(dom_x[k][0]), px_x(dom_x[k][1])], range=list(x_ranges[k]),
        anchor=ya, showgrid=False, zeroline=False, automargin=False,
        showline=True, linecolor="black", linewidth=1.5, mirror=True,
        ticks="outside", ticklen=8, tickwidth=1.2, tickcolor="black",
        tickmode="array", tickvals=x_tick_vals, ticktext=x_tick_text,
        ticklabelstandoff=8, ticklabeloverflow="allow",
        minor=dict(tickmode="array", tickvals=[0.05, -0.05, -0.15, -0.25],
                   ticks="outside", ticklen=8, tickwidth=1.2, tickcolor="black", showgrid=False),
        tickfont=dict(size=16, color="black", family=FONT))
    yax = dict(
        domain=list(y_dom), range=list(y_range), anchor=xa,
        showgrid=False, zeroline=False, automargin=False,
        showline=True, linecolor="black", linewidth=1.5, mirror="ticks",
        tickmode="linear", tick0=0, dtick=0.02, tickformat=".2f",
        tickwidth=1.2, tickcolor="black", ticklabeloverflow="allow",
        tickfont=dict(size=16, color="black", family=FONT))
    if k == 0:
        yax.update(ticks="outside", ticklen=10, showticklabels=True, ticklabelstandoff=5)
    else:
        yax.update(ticks="inside", ticklen=7, showticklabels=False)
    layout["yaxis" + sfx] = yax

    # reference lines
    shapes.append(dict(type="line", xref=xa, yref=ya, x0=0, x1=0, y0=y_range[0], y1=0.1507,
                       line=dict(color="black", width=1.5), layer="below"))
    shapes.append(dict(type="line", xref=xa, yref=ya, x0=gap_energy[k], x1=gap_energy[k],
                       y0=y_range[0], y1=y_range[1],
                       line=dict(color="black", width=1.5, dash="5px,3px"), layer="below"))

    # panel title & letter
    title_left = [101, 301, 501, 701][k]
    annotations.append(dict(x=px_x(title_left), y=px_y(22), xref="paper", yref="paper",
                            text=panel_titles[k], showarrow=False, xanchor="left", yanchor="middle",
                            font=dict(size=18.5, color="black", family=FONT)))
    letter_x = [273, 474, 674, 874][k]
    annotations.append(dict(x=px_x(letter_x), y=px_y(354), xref="paper", yref="paper",
                            text=panel_letters[k], showarrow=False, xanchor="center", yanchor="middle",
                            font=dict(size=21, color="black", family=FONT)))

# axis titles
annotations.append(dict(x=px_x(22), y=px_y(194), xref="paper", yref="paper",
                        text="MDC FWHM  (Å<sup>-1</sup>)", textangle=-90, showarrow=False,
                        xanchor="center", yanchor="middle",
                        font=dict(size=16, color="black", family=FONT)))
annotations.append(dict(x=px_x(481), y=px_y(437), xref="paper", yref="paper",
                        text="Energy  (eV)", showarrow=False, xanchor="center", yanchor="middle",
                        font=dict(size=18, color="black", family=FONT)))

fig.update_layout(
    width=W, height=H, margin=dict(l=0, r=0, t=0, b=0, autoexpand=False),
    paper_bgcolor="white", plot_bgcolor="white",
    showlegend=False, annotations=annotations, shapes=shapes,
    font=dict(family=FONT, color="black"),
    **layout)

fig.write_html("out.html")
